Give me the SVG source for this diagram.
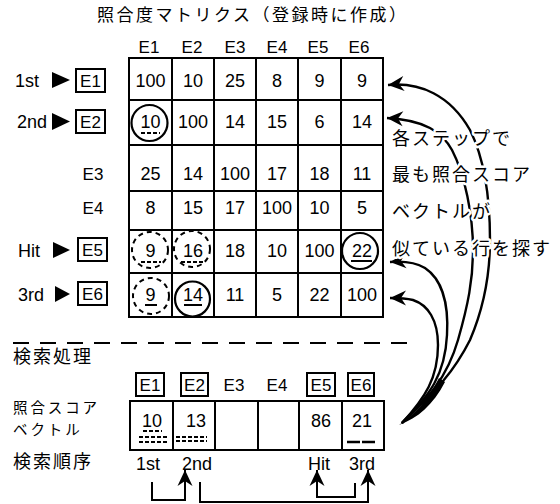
<svg xmlns="http://www.w3.org/2000/svg" width="560" height="504" viewBox="0 0 560 504">
<style>
.t{font-family:"Liberation Sans","DejaVu Sans",sans-serif;font-size:18px;fill:#000}
.h{font-size:17px}
.c{text-anchor:middle}
.jp{font-family:"Noto Sans CJK JP","Noto Sans",sans-serif;font-size:18px;letter-spacing:2px;fill:#000}
.sm{font-size:14.5px;letter-spacing:2.9px}
.halo{stroke:#fff;stroke-width:5px;stroke-linejoin:round;paint-order:stroke}
.grid{stroke:#000;stroke-width:2;fill:none}
.box{fill:none;stroke:#000;stroke-width:2}
.circ{fill:none;stroke:#000;stroke-width:2.2}
.dcirc{fill:none;stroke:#000;stroke-width:2;stroke-dasharray:5 4}
.ul{stroke:#000;stroke-width:1.8}
.dul{stroke:#000;stroke-width:1.8;stroke-dasharray:4 2}
.conn{fill:none;stroke:#000;stroke-width:2.4}
.sep{stroke:#000;stroke-width:2;stroke-dasharray:16 11}
</style>
<defs>
<marker id="ah" viewBox="-17 -8 18 16" markerWidth="18" markerHeight="16" refX="0" refY="0" markerUnits="userSpaceOnUse" orient="auto">
<path d="M0,0 L-16,-7.5 L-11,0 L-16,7.5 Z" fill="#000"/>
</marker>
</defs>

<g id="title">
<text class="jp" x="97" y="21" style="font-size:17px;letter-spacing:2.5px">照合度マトリクス（登録時に作成）</text>
</g>

<g id="col-headers" class="t h c">
<text x="149" y="53">E1</text><text x="192" y="53">E2</text><text x="235" y="53">E3</text>
<text x="277" y="53">E4</text><text x="318" y="53">E5</text><text x="359" y="53">E6</text>
</g>

<g id="row-labels">
<text class="t" x="15" y="87">1st</text>
<polygon points="52,72 70,80 52,88" fill="#000"/>
<rect class="box" x="76" y="69" width="29" height="23"/>
<text class="t h c" x="90.5" y="87">E1</text>
<text class="t" x="17" y="128">2nd</text>
<polygon points="52,113 70,121.5 52,130" fill="#000"/>
<rect class="box" x="76" y="110" width="29" height="23"/>
<text class="t h c" x="90.5" y="128">E2</text>
<text class="t h c" x="93" y="180">E3</text>
<text class="t h c" x="93" y="214">E4</text>
<text class="t" x="18" y="257">Hit</text>
<polygon points="53,242 70,250 53,258" fill="#000"/>
<rect class="box" x="78" y="238" width="29" height="23"/>
<text class="t h c" x="92.5" y="256">E5</text>
<text class="t" x="18" y="301">3rd</text>
<polygon points="55,286 70,294 55,302" fill="#000"/>
<rect class="box" x="78" y="282" width="29" height="23"/>
<text class="t h c" x="92.5" y="300">E6</text>
</g>

<g id="matrix">
<rect class="grid" x="129" y="58" width="254" height="259"/>
<path class="grid" d="M172,58V317M214,58V317M256,58V317M298,58V317M341,58V317M129,100H383M129,145H383M129,191H383M129,230H383M129,273H383"/>
<g class="t c">
<text x="150.5" y="87">100</text><text x="193" y="87">10</text><text x="235" y="87">25</text><text x="277" y="87">8</text><text x="319.5" y="87">9</text><text x="362" y="87">9</text>
<text x="150.5" y="128">10</text><text x="193" y="128">100</text><text x="235" y="128">14</text><text x="277" y="128">15</text><text x="319.5" y="128">6</text><text x="362" y="128">14</text>
<text x="150.5" y="180">25</text><text x="193" y="180">14</text><text x="235" y="180">100</text><text x="277" y="180">17</text><text x="319.5" y="180">18</text><text x="362" y="180">11</text>
<text x="150.5" y="214">8</text><text x="193" y="214">15</text><text x="235" y="214">17</text><text x="277" y="214">100</text><text x="319.5" y="214">10</text><text x="362" y="214">5</text>
<text x="150.5" y="257">9</text><text x="193" y="257">16</text><text x="235" y="257">18</text><text x="277" y="257">10</text><text x="319.5" y="257">100</text><text x="362" y="257">22</text>
<text x="150.5" y="301">9</text><text x="193" y="301">14</text><text x="235" y="301">11</text><text x="277" y="301">5</text><text x="319.5" y="301">22</text><text x="362" y="301">100</text>
</g>
<circle class="circ" cx="149.5" cy="123" r="18"/>
<circle class="circ" cx="192.5" cy="299" r="17.5"/>
<circle class="circ" cx="360" cy="251" r="18"/>
<circle class="dcirc" cx="150" cy="250" r="18"/>
<circle class="dcirc" cx="192" cy="249" r="18"/>
<circle class="dcirc" cx="151" cy="296" r="18"/>
<path class="dul" d="M141,133H160M141,262H161M181,262H205"/>
<path class="ul" d="M145,305H157M184,305H202M351,261H372"/>
</g>

<g id="separator">
<line class="sep" x1="13" y1="343" x2="410" y2="343"/>
<text class="jp" x="13" y="363">検索処理</text>
</g>

<g id="search-headers">
<rect class="box" x="136" y="373" width="28" height="23"/>
<rect class="box" x="181" y="373" width="27" height="23"/>
<rect class="box" x="307" y="373" width="28" height="23"/>
<rect class="box" x="348" y="373" width="26" height="23"/>
<g class="t h c">
<text x="150" y="391">E1</text><text x="194.5" y="391">E2</text><text x="234" y="391">E3</text>
<text x="277" y="391">E4</text><text x="321" y="391">E5</text><text x="361" y="391">E6</text>
</g>
</g>

<g id="score-vector">
<text class="jp sm" x="13" y="413">照合スコア</text>
<text class="jp sm" x="13" y="435">ベクトル</text>
<rect class="grid" x="130" y="401" width="254" height="49"/>
<path class="grid" d="M173,401V450M215,401V450M258,401V450M299,401V450M342,401V450"/>
<g class="t c">
<text x="152" y="427">10</text><text x="196" y="427">13</text><text x="321" y="427">86</text><text x="362" y="427">21</text>
</g>
<path class="dul" d="M143,431H162M139,437H167M139,442H167M176,437H207M176,441H207"/>
<path class="ul" d="M347,442H375" style="stroke-width:2.5;stroke-dasharray:13 2"/>
</g>

<g id="search-order">
<text class="jp" x="13" y="468">検索順序</text>
<g class="t c">
<text x="148" y="470">1st</text><text x="197" y="470">2nd</text><text x="319" y="470">Hit</text><text x="362" y="470">3rd</text>
</g>
</g>

<g id="connectors">
<path class="conn" marker-end="url(#ah)" d="M402,423 C425,400 450,380 470,340 C485,305 490,270 490,240 C490,200 485,160 470,130 C450,95 420,82 388,85"/>
<path class="conn" marker-end="url(#ah)" d="M402,423 C420,405 445,385 458,340 C468,305 473,280 473,250 C473,215 465,175 452,150 C442,132 425,120 387,118"/>
<path class="conn" marker-end="url(#ah)" d="M402,423 C430,395 445,375 447,335 C449,300 440,278 425,268 C415,262 402,261 390,262"/>
<path class="conn" marker-end="url(#ah)" d="M402,423 C425,398 438,378 438,345 C438,320 428,305 413,300 C405,298 398,298 390,298"/>
<path d="M399,425 C415,414 428,400 439,378 L445,382 C433,405 418,418 399,425 Z" fill="#000"/>
<path class="conn" style="stroke-width:2" marker-end="url(#ah)" d="M152,482V500H185V470"/>
<path class="conn" style="stroke-width:2" marker-end="url(#ah)" d="M200,482V502H368V470"/>
<path class="conn" style="stroke-width:2" marker-end="url(#ah)" d="M355,483V497H317V470"/>
</g>

<g id="annotation">
<text class="jp halo" x="392" y="145">各ステップで</text>
<text class="jp halo" x="392" y="181">最も照合スコア</text>
<text class="jp halo" x="392" y="218">ベクトルが</text>
<text class="jp halo" x="392" y="255">似ている行を探す</text>
</g>
</svg>
